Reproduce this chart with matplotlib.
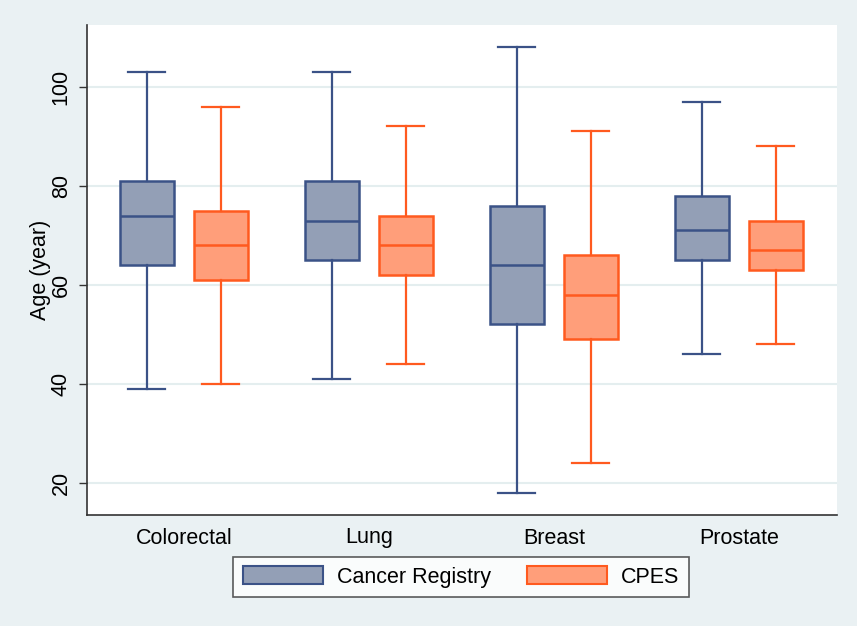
import matplotlib
matplotlib.use("Agg")
import matplotlib.pyplot as plt
from matplotlib.patches import Patch

plt.rcParams['font.family'] = ['Liberation Sans', 'DejaVu Sans']

cancers = ['Colorectal', 'Lung', 'Breast', 'Prostate']
groups = ['Cancer Registry', 'CPES']

# whisker low, Q1, median, Q3, whisker high
registry_low = [39, 41, 18, 46]
registry_q1 = [64, 65, 52, 65]
registry_med = [74, 73, 64, 71]
registry_q3 = [81, 81, 76, 78]
registry_high = [103, 103, 108, 97]

cpes_low = [40, 44, 24, 48]
cpes_q1 = [61, 62, 49, 63]
cpes_med = [68, 68, 58, 67]
cpes_q3 = [75, 74, 66, 73]
cpes_high = [96, 92, 91, 88]

bg = '#EAF1F3'
reg_fill, reg_edge = '#939FB6', '#3B5287'
cpes_fill, cpes_edge = '#FF9E7A', '#FF5A1F'
fs = 15.5

fig = plt.figure(figsize=(8.57, 6.26), dpi=100, facecolor=bg)
ax = fig.add_axes([87 / 857, 1 - 515 / 626, (837 - 87) / 857, (515 - 25) / 626])
ax.set_facecolor('white')


def stats(low, q1, med, q3, high):
    return [dict(whislo=a, q1=b, med=c, q3=d, whishi=e, fliers=[])
            for a, b, c, d, e in zip(low, q1, med, q3, high)]


def draw(st, pos, fill, edge):
    ax.bxp(st, positions=pos, widths=0.29, patch_artist=True, showfliers=False,
           capwidths=0.2,
           boxprops=dict(facecolor=fill, edgecolor=edge, linewidth=1.8),
           medianprops=dict(color=edge, linewidth=1.8),
           whiskerprops=dict(color=edge, linewidth=1.6),
           capprops=dict(color=edge, linewidth=1.6))


xs = list(range(len(cancers)))
draw(stats(registry_low, registry_q1, registry_med, registry_q3, registry_high),
     [x - 0.2 for x in xs], reg_fill, reg_edge)
draw(stats(cpes_low, cpes_q1, cpes_med, cpes_q3, cpes_high),
     [x + 0.2 for x in xs], cpes_fill, cpes_edge)

ax.set_xlim(-0.524, 3.53)
ax.set_ylim(13.5, 112.5)
ax.set_xticks(xs)
ax.set_xticklabels(cancers, fontsize=fs)
ax.tick_params(axis='x', length=0, pad=9)
ax.set_yticks([20, 40, 60, 80, 100])
ax.set_yticklabels(['20', '40', '60', '80', '100'], rotation=90, va='center', fontsize=fs)
ax.tick_params(axis='y', length=6, width=1, color='#333333', pad=5)
ax.yaxis.grid(True, color='#E4EEEF', linewidth=1.5)
ax.set_axisbelow(True)
ax.set_ylabel('Age (year)', fontsize=fs, labelpad=0)

for side in ['top', 'right']:
    ax.spines[side].set_visible(False)
for side in ['left', 'bottom']:
    ax.spines[side].set_color('#333333')
    ax.spines[side].set_linewidth(1.2)

handles = [Patch(facecolor=reg_fill, edgecolor=reg_edge, linewidth=1.5),
           Patch(facecolor=cpes_fill, edgecolor=cpes_edge, linewidth=1.5)]
leg = fig.legend(handles, groups, loc='center', bbox_to_anchor=(461 / 857, 1 - 577 / 626),
                 ncol=2, fontsize=fs, frameon=True, fancybox=False,
                 handlelength=3.7, handleheight=0.9, columnspacing=1.7,
                 handletextpad=0.65, borderpad=0.45, borderaxespad=0)
leg.get_frame().set_edgecolor('#333333')
leg.get_frame().set_linewidth(1.2)

fig.savefig('out.png', dpi=100, facecolor=bg)
